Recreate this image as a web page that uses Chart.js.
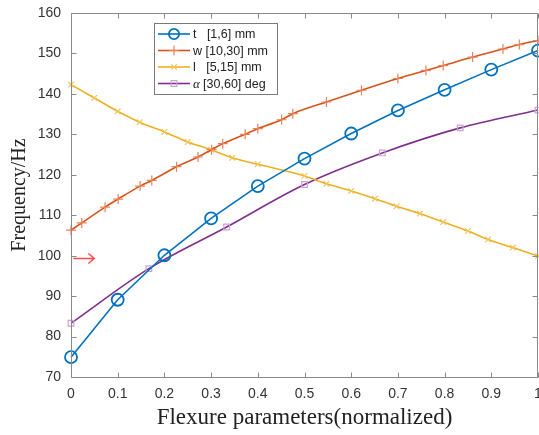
<!DOCTYPE html>
<html><head><meta charset="utf-8">
<script src="https://cdn.jsdelivr.net/npm/chart.js@4/dist/chart.umd.min.js"></script>
<style>html,body{margin:0;padding:0;background:#fff;overflow:hidden}#wrap{width:539px;height:435px}</style>
</head><body><div id="wrap"><canvas id="c"></canvas></div>
<script>
// ---- data ----
const xTicks = [0,0.1,0.2,0.3,0.4,0.5,0.6,0.7,0.8,0.9,1];
const yTicks = [70,80,90,100,110,120,130,140,150,160];
const tX = [0,0.1,0.2,0.3,0.4,0.5,0.6,0.7,0.8,0.9,1];
const tVals = [74.9,89.1,100.1,109.2,117.2,124.0,130.2,135.9,141.0,146.0,150.7];
const wX = [0,0.023,0.073,0.101,0.148,0.173,0.226,0.272,0.301,0.325,0.373,0.4,0.451,0.475,0.547,0.622,0.7,0.76,0.797,0.86,0.925,0.96,1];
const wVals = [106.3,108.1,112.0,114.0,117.2,118.6,122.0,124.4,126.2,127.7,130.0,131.4,133.6,135.1,138.0,140.9,143.8,145.8,147.0,149.1,151.1,152.2,153.2];
const lX = [0,0.05,0.1,0.147,0.2,0.25,0.3,0.345,0.4,0.5,0.547,0.6,0.651,0.697,0.747,0.797,0.85,0.893,0.946,1];
const lVals = [142.3,139.0,135.7,133.0,130.6,128.1,126.2,124.2,122.6,119.7,117.8,116.0,114.1,112.2,110.4,108.3,106.1,104.0,102.0,99.9];
const aX = [0,1/6,1/3,1/2,2/3,5/6,1];
const aVals = [83.3,96.8,107.1,117.6,125.4,131.6,136.0];
const seriesNames = ['t   [1,6] mm','w [10,30] mm','l   [5,15] mm','α [30,60] deg'];
const arrowX = [0.005,0.05];
const arrowY = 99.3;
const xTitle = 'Flexure parameters(normalized)';
const yTitle = 'Frequency/Hz';

const colors = ['#0072BD','#D95319','#EDB120','#7E2F8E'];
const markerColors = ['#0072BD','#E8825A','#F2C45E','#C9A3D6'];
const styles = ['circle','cross','crossRot','rect'];
const radii = [6,5,4,4];

function pts(xs, ys){ return xs.map((x,i)=>({x:x,y:ys[i]})); }

const datasets = [
  {label:seriesNames[0], data:pts(tX,tVals), tension:0},
  {label:seriesNames[1], data:pts(wX,wVals), cubicInterpolationMode:'monotone'},
  {label:seriesNames[2], data:pts(lX,lVals), cubicInterpolationMode:'monotone'},
  {label:seriesNames[3], data:pts(aX,aVals), cubicInterpolationMode:'monotone'}
].map((d,i)=>Object.assign(d,{
  borderColor:colors[i], borderWidth:1.6, pointStyle:styles[i], pointRadius:radii[i],
  pointBorderColor:markerColors[i], pointBackgroundColor:'rgba(0,0,0,0)', pointBorderWidth: i===0?1.8:1.2,
  fill:false, clip:8
}));

const axisColor = '#8a8a8a';
const frame = {
  id:'frame',
  afterDraw(chart){
    const ctx = chart.ctx, a = chart.chartArea, xs = chart.scales.x, ys = chart.scales.y;
    ctx.save();
    ctx.strokeStyle = axisColor; ctx.lineWidth = 1;
    ctx.beginPath();
    const l = Math.round(a.left)+0.5, r = Math.round(a.right)-0.5, t = Math.round(a.top)+0.5, b = Math.round(a.bottom)+0.5;
    ctx.rect(l, t, r-l, b-t);
    const L = 5;
    xTicks.forEach(v=>{ const p = Math.round(xs.getPixelForValue(v))+0.5;
      ctx.moveTo(p,b); ctx.lineTo(p,b-L); ctx.moveTo(p,t); ctx.lineTo(p,t+L); });
    yTicks.forEach(v=>{ const p = Math.round(ys.getPixelForValue(v))+0.5;
      ctx.moveTo(l,p); ctx.lineTo(l+L,p); ctx.moveTo(r,p); ctx.lineTo(r-L,p); });
    ctx.stroke();
    // red arrow annotation
    const ax0 = xs.getPixelForValue(arrowX[0]), ax1 = xs.getPixelForValue(arrowX[1]), ay = ys.getPixelForValue(arrowY);
    ctx.strokeStyle = '#ff4d4d'; ctx.lineWidth = 1.5;
    ctx.beginPath(); ctx.moveTo(ax0,ay); ctx.lineTo(ax1,ay);
    ctx.moveTo(ax1-6,ay-5); ctx.lineTo(ax1,ay); ctx.lineTo(ax1-6,ay+5); ctx.stroke();
    // legend
    const bx = 154.5, by = 23.5, bw = 123, bh = 71;
    ctx.fillStyle = '#fff'; ctx.fillRect(bx,by,bw,bh);
    ctx.strokeStyle = '#7a7a7a'; ctx.lineWidth = 1; ctx.strokeRect(bx,by,bw,bh);
    const rows = [34,50.5,67,83.5];
    chart.data.datasets.forEach((d,i)=>{
      const y = rows[i];
      ctx.strokeStyle = colors[i]; ctx.lineWidth = 1.6;
      ctx.beginPath(); ctx.moveTo(158,y); ctx.lineTo(190,y); ctx.stroke();
      ctx.strokeStyle = markerColors[i]; ctx.lineWidth = i===0?1.8:1.2;
      ctx.fillStyle = 'rgba(0,0,0,0)';
      Chart.helpers.drawPoint(ctx,{pointStyle:styles[i], radius:radii[i]*(i===0?0.85:1), borderWidth:1}, 174, y);
      ctx.fillStyle = '#222'; ctx.textBaseline = 'middle'; ctx.textAlign='left';
      let txt = d.label, tx = 193;
      if (txt.startsWith('α')) {
        ctx.font = 'italic 13px "Liberation Serif", serif';
        ctx.fillText('α', tx, y+1); tx += ctx.measureText('α ').width;
        txt = txt.slice(2);
      }
      ctx.font = '12.5px "Liberation Sans", Arial, sans-serif';
      ctx.fillText(txt, tx, y+1);
    });
    ctx.restore();
  }
};

new Chart(document.getElementById('c'), {
  type:'line',
  data:{datasets:datasets},
  options:{
    responsive:true, maintainAspectRatio:false, animation:false,
    layout:{autoPadding:false, padding:{top:13,right:1,left:0,bottom:0}},
    plugins:{legend:{display:false}, tooltip:{enabled:false}},
    scales:{
      x:{type:'linear', min:0, max:1,
        afterBuildTicks:s=>{ s.ticks = xTicks.map(v=>({value:v})); },
        afterFit:s=>{ s.height = 58; s.paddingLeft=0; s.paddingRight=0; },
        grid:{display:false, drawTicks:false}, border:{display:false},
        ticks:{padding:9, color:'#333', font:{family:'"Liberation Sans", Arial, sans-serif', size:14}, maxRotation:0,
          callback:v=>String(v)},
        title:{display:true, text:xTitle, color:'#222', padding:{top:0,bottom:3},
          font:{family:'"Liberation Serif", "Times New Roman", serif', size:23}}
      },
      y:{type:'linear', min:70, max:160,
        afterBuildTicks:s=>{ s.ticks = yTicks.map(v=>({value:v})); },
        afterFit:s=>{ s.width = 71; s.paddingTop=0; s.paddingBottom=0; },
        grid:{display:false, drawTicks:false}, border:{display:false},
        ticks:{padding:10, color:'#333', font:{family:'"Liberation Sans", Arial, sans-serif', size:14}},
        title:{display:true, text:yTitle, color:'#222', padding:{top:8,bottom:0},
          font:{family:'"Liberation Serif", "Times New Roman", serif', size:20}}
      }
    }
  },
  plugins:[frame]
});
</script></body></html>
